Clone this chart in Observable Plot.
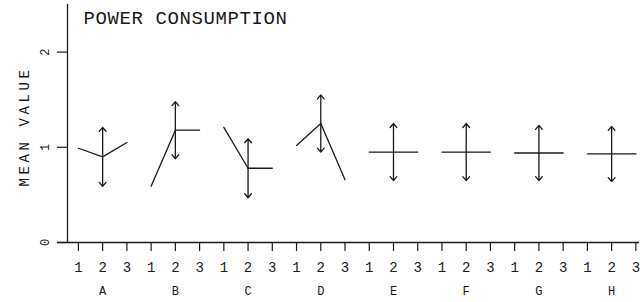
<!DOCTYPE html>
<html>
<head>
<meta charset="utf-8">
<script src="https://cdn.jsdelivr.net/npm/d3@7"></script>
<script src="https://cdn.jsdelivr.net/npm/@observablehq/plot@0.6"></script>
<style>
  html, body { margin: 0; padding: 0; background: #fff; }
  #chart svg { display: block; }
</style>
</head>
<body>
<div id="chart"></div>
<script>
// ---- data ----
const groups = ["A", "B", "C", "D", "E", "F", "G", "H"];
const levels = ["1", "2", "3"];
const level1 = [0.99, 0.59, 1.21, 1.02, 0.95, 0.95, 0.94, 0.93];
const level2 = [0.90, 1.18, 0.78, 1.25, 0.95, 0.95, 0.94, 0.93];
const level3 = [1.05, 1.18, 0.78, 0.66, 0.95, 0.95, 0.94, 0.93];
const spread = [0.31, 0.30, 0.31, 0.30, 0.30, 0.30, 0.29, 0.29];
const yTicks = [0, 1, 2];
const title = "POWER CONSUMPTION";
const yLabel = "MEAN VALUE";

// ---- tables built from the arrays ----
const levelValues = [level1, level2, level3];
const points = [];
groups.forEach((g, gi) => {
  levels.forEach((l, li) => {
    points.push({group: g, pos: gi * 3 + li, value: levelValues[li][gi]});
  });
});
const bars = groups.map((g, gi) => ({
  group: g, pos: gi * 3 + 1, mean: level2[gi],
  lo: level2[gi] - spread[gi], hi: level2[gi] + spread[gi]
}));

const font = "Liberation Mono, DejaVu Sans Mono, monospace";
const ink = "#1a1a1a";

const chart = Plot.plot({
  width: 640,
  height: 302,
  marginLeft: 67,
  marginRight: 1,
  marginTop: 4,
  marginBottom: 60,
  style: {fontFamily: font, color: ink, background: "#fff"},
  x: {type: "linear", domain: [-0.45, 23.15]},
  y: {domain: [0, 2.5]},
  marks: [
    Plot.frame({anchor: "left", stroke: ink, strokeWidth: 1.3}),
    Plot.ruleY([0], {insetLeft: -10, stroke: ink, strokeWidth: 1.3}),
    Plot.axisY({
      ticks: yTicks, tickSize: 10, tickPadding: 9, tickRotate: -90,
      tickFormat: d => String(d), label: null, fontSize: 12,
      stroke: ink, strokeWidth: 1.2
    }),
    Plot.axisX({
      ticks: d3.range(groups.length * 3),
      tickFormat: i => levels[i % 3],
      tickSize: 9, tickPadding: 11, label: null, fontSize: 14,
      stroke: ink, strokeWidth: 1.2
    }),
    Plot.axisX({
      ticks: groups.map((g, gi) => gi * 3 + 1),
      tickFormat: i => groups[(i - 1) / 3],
      tickSize: 0, tickPadding: 44, label: null, fontSize: 12
    }),
    Plot.line(points, {
      x: "pos", y: "value", z: "group",
      stroke: ink, strokeWidth: 1.3,
      strokeDasharray: d => (d.group === "A" ? null : "5,1.5")
    }),
    Plot.arrow(bars, {
      x1: "pos", y1: "mean", x2: "pos", y2: "hi",
      stroke: ink, strokeWidth: 1.3, headLength: 6, headAngle: 80
    }),
    Plot.arrow(bars, {
      x1: "pos", y1: "mean", x2: "pos", y2: "lo",
      stroke: ink, strokeWidth: 1.3, headLength: 6, headAngle: 80
    }),
    Plot.text([title], {
      frameAnchor: "top-left", textAnchor: "start", lineAnchor: "top",
      dx: 16, dy: 6, fontSize: 19, fill: ink,
      fontFamily: font
    }),
    Plot.text([yLabel], {
      frameAnchor: "left", rotate: -90, textAnchor: "middle",
      dx: -43, dy: 3, fontSize: 14, fill: ink, fontFamily: font
    })
  ]
});

// plotter-style wide letter spacing for the title and y label
d3.select(chart).selectAll("text").each(function () {
  const t = this.textContent;
  if (t === title) this.setAttribute("letter-spacing", "0.6");
  if (t === yLabel) this.setAttribute("letter-spacing", "3.6");
});

document.getElementById("chart").appendChild(chart);
</script>
</body>
</html>
